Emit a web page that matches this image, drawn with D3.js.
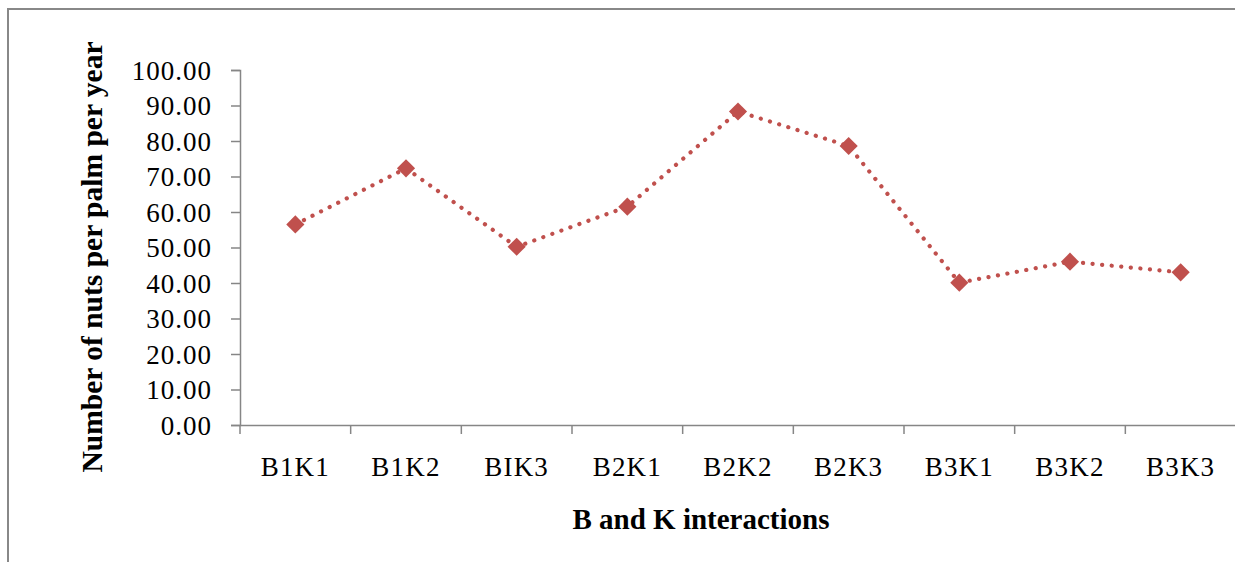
<!DOCTYPE html>
<html>
<head>
<meta charset="utf-8">
<script src="https://cdn.jsdelivr.net/npm/d3@7"></script>
<style>
  body { margin: 0; background: #fff; }
  svg text { font-family: "Liberation Serif", "Times New Roman", serif; fill: #000; }
</style>
</head>
<body>
<div id="chart"></div>
<script>
// chart data
const categories = ["B1K1", "B1K2", "BIK3", "B2K1", "B2K2", "B2K3", "B3K1", "B3K2", "B3K3"];
const nutsPerPalm = [56.5, 72.3, 50.2, 61.5, 88.3, 78.6, 40.1, 46.0, 43.0];
const yTicks = [0, 10, 20, 30, 40, 50, 60, 70, 80, 90, 100];

const W = 1235, H = 562;
const margin = { top: 70, right: -1, bottom: 137, left: 240 };
const innerW = W - margin.left - margin.right;
const innerH = H - margin.top - margin.bottom;

const svg = d3.select("#chart").append("svg")
  .attr("width", W)
  .attr("height", H);

// outer chart frame (runs off the right and bottom edge)
svg.append("rect")
  .attr("x", 8).attr("y", 9)
  .attr("width", W + 20).attr("height", H + 20)
  .attr("fill", "none")
  .attr("stroke", "#888")
  .attr("stroke-width", 2);

const g = svg.append("g")
  .attr("transform", "translate(" + margin.left + "," + margin.top + ")");

const x = d3.scaleBand()
  .domain(categories)
  .range([0, innerW]);

const y = d3.scaleLinear()
  .domain([0, 100])
  .range([innerH, 0]);

// y axis
const yAxis = g.append("g")
  .call(d3.axisLeft(y).tickValues(yTicks).tickSize(9).tickPadding(19).tickFormat(d3.format(".2f")));
yAxis.selectAll("text")
  .style("font-size", "27px")
  .style("letter-spacing", "1px")
  .attr("dy", "0.34em");

// x axis, ticks on category boundaries like Excel
const xAxis = g.append("g")
  .attr("transform", "translate(0," + innerH + ")")
  .call(d3.axisBottom(x).tickSize(0).tickPadding(32));
xAxis.selectAll("text")
  .style("font-size", "27px")
  .style("letter-spacing", "1.2px")
  .attr("dy", "0.71em");

const bounds = categories.map((c) => x(c)).concat([innerW]);
xAxis.selectAll(".bound")
  .data(bounds)
  .enter()
  .append("line")
  .attr("class", "bound")
  .attr("x1", (d) => d).attr("x2", (d) => d)
  .attr("y1", 0).attr("y2", 9);

svg.selectAll(".domain, .tick line, .bound")
  .attr("stroke", "#868686")
  .attr("stroke-width", 1.5);

// dotted series line
const line = d3.line()
  .x((d, i) => x(categories[i]) + x.bandwidth() / 2)
  .y((d) => y(d));

g.append("path")
  .datum(nutsPerPalm)
  .attr("d", line)
  .attr("fill", "none")
  .attr("stroke", "#C0504D")
  .attr("stroke-width", 4.2)
  .attr("stroke-linecap", "round")
  .attr("stroke-dasharray", "0.1 9.5");

// diamond markers
g.selectAll(".marker")
  .data(nutsPerPalm)
  .enter()
  .append("path")
  .attr("class", "marker")
  .attr("d", d3.symbol().type(d3.symbolSquare).size(165))
  .attr("transform", (d, i) => "translate(" + (x(categories[i]) + x.bandwidth() / 2) + "," + y(d) + ") rotate(45)")
  .attr("fill", "#C0504D");

// axis titles
svg.append("text")
  .attr("transform", "translate(102,257) rotate(-90)")
  .attr("text-anchor", "middle")
  .style("font-size", "29.5px")
  .style("font-weight", "bold")
  .text("Number of nuts per palm per year");

svg.append("text")
  .attr("x", 701)
  .attr("y", 529)
  .attr("text-anchor", "middle")
  .style("font-size", "29px")
  .style("font-weight", "bold")
  .text("B and K interactions");
</script>
</body>
</html>
